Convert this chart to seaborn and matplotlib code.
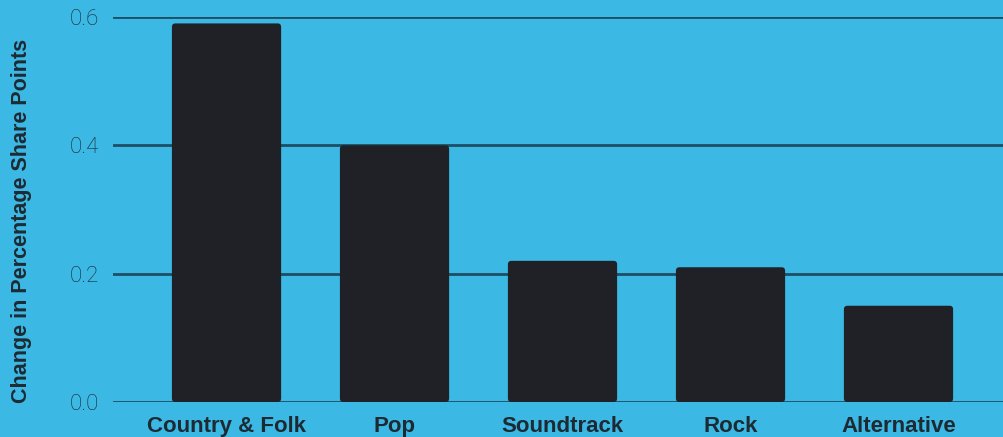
import matplotlib
matplotlib.use("Agg")
import matplotlib.pyplot as plt
from matplotlib.patches import FancyBboxPatch
import seaborn as sns
import pandas as pd

genres = ["Country & Folk", "Pop", "Soundtrack", "Rock", "Alternative"]
changes = [0.59, 0.40, 0.22, 0.21, 0.15]
yticks = [0.0, 0.2, 0.4, 0.6]

bg = "#3bb8e4"
bar_color = "#202126"
grid_color = "#1d4e63"
text_color = "#1e2a33"

sns.set_theme(style="white")
plt.rcParams["font.family"] = ["Liberation Sans", "DejaVu Sans"]

df = pd.DataFrame({"genre": genres, "change": changes})

fig = plt.figure(figsize=(10.04, 4.37), dpi=100, facecolor=bg)
ax = fig.add_axes([0.1125, 0.0801, 0.8875, 0.881])
ax.set_facecolor(bg)

ax.yaxis.grid(True, color=grid_color, linewidth=2, zorder=0)
ax.set_axisbelow(True)
sns.barplot(data=df, x="genre", y="change", color=bar_color, width=0.65,
            saturation=1, ax=ax, zorder=3, edgecolor=bar_color, linewidth=0)

ax.set_xlim(-0.676, 4.628)
ax.set_ylim(0, 0.6)

# round bar corners slightly
px_x = 0.8875 * 1004 / (4.628 + 0.676)
px_y = 0.881 * 437 / 0.6
r = 3.5 / px_x
for p in list(ax.patches):
    x0, y0 = p.get_x(), p.get_y()
    w, h = p.get_width(), p.get_height()
    fb = FancyBboxPatch((x0, y0), w, h,
                        boxstyle=f"round,pad=0,rounding_size={r}",
                        mutation_aspect=px_x / px_y,
                        facecolor=bar_color, edgecolor="none", zorder=3)
    p.remove()
    ax.add_patch(fb)

ax.set_yticks(yticks)
ax.set_yticklabels([f"{t:.1f}" for t in yticks], fontsize=16, color="#1c2830",
                   family=["Roboto", "DejaVu Sans"], fontweight="light")
ax.tick_params(axis="y", length=0, pad=10)
ax.tick_params(axis="x", length=0, pad=10)
for lbl in ax.get_xticklabels():
    lbl.set_fontweight("bold")
    lbl.set_fontsize(16)
    lbl.set_color(text_color)
ax.set_xlabel("")
ax.set_ylabel("Change in Percentage Share Points", fontsize=15.5, fontweight="bold",
              color=text_color)
ax.yaxis.set_label_coords(-0.0905, 0.47)
for s in ax.spines.values():
    s.set_visible(False)

fig.savefig("out.png", dpi=100, facecolor=bg)
